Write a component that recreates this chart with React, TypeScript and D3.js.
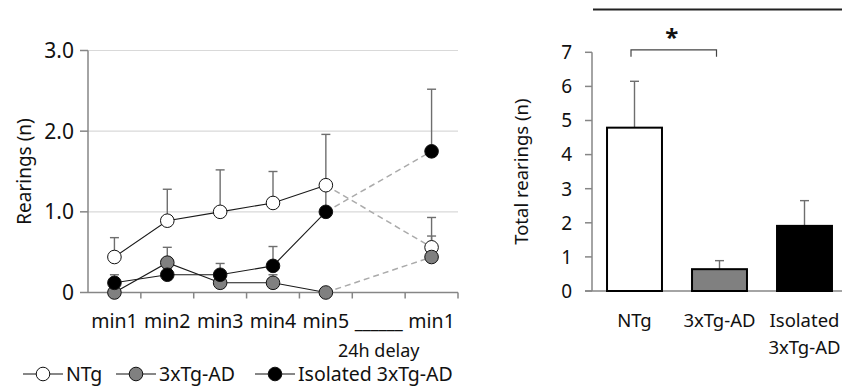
import { useEffect, useRef } from 'react'
import * as d3 from 'd3'

// time-course panel
const cats = ['m1', 'm2', 'm3', 'm4', 'm5', 'gap', 'm1d']
const catLabels = ['min1', 'min2', 'min3', 'min4', 'min5', '______', 'min1']
const pointCats = ['m1', 'm2', 'm3', 'm4', 'm5', 'm1d']
const leftTicks = [0, 1, 2, 3]
const leftTickLabels = ['0', '1.0', '2.0', '3.0']

const ntgMean = [0.44, 0.89, 1.0, 1.11, 1.33, 0.56]
const ntgErr = [0.24, 0.39, 0.52, 0.39, 0.63, 0.37]
const tgMean = [0, 0.37, 0.12, 0.12, 0, 0.44]
const tgErr = [0.1, 0.19, 0.1, 0.1, 0, 0.26]
const isoMean = [0.12, 0.22, 0.22, 0.33, 1.0, 1.75]
const isoErr = [0.1, 0.08, 0.14, 0.24, 0.3, 0.77]

const seriesNames = ['NTg', '3xTg-AD', 'Isolated 3xTg-AD']
const seriesFill = ['#ffffff', '#808080', '#000000']

// totals panel
const groups = ['NTg', '3xTg-AD', 'Isolated 3xTg-AD']
const groupLabels = [['NTg'], ['3xTg-AD'], ['Isolated', '3xTg-AD']]
const totals = [4.79, 0.64, 1.91]
const totalsErr = [1.36, 0.25, 0.74]
const rightTicks = [0, 1, 2, 3, 4, 5, 6, 7]

const FONT = '"Noto Sans", "Open Sans", sans-serif'
const AXIS = '#868686'
const ERR = '#6e6e6e'

export default function App() {
  const ref = useRef<SVGSVGElement>(null)

  useEffect(() => {
    document.body.style.margin = '0'
    const svg = d3.select(ref.current)
    svg.selectAll('*').remove()
    svg.attr('font-family', FONT)

    // ---------- left panel ----------
    const x = d3.scaleBand().domain(cats).range([88, 458])
    const y = d3.scaleLinear().domain([0, 3]).range([292.5, 50.5])
    const cx = (c: string) => (x(c) as number) + x.bandwidth() / 2
    const L = svg.append('g')

    leftTicks.filter(t => t > 0).forEach(t => {
      L.append('line').attr('x1', 88).attr('x2', 458).attr('y1', y(t)).attr('y2', y(t))
        .attr('stroke', '#d9d9d9').attr('stroke-width', 1.2)
    })
    // axes
    L.append('line').attr('x1', 88).attr('x2', 88).attr('y1', y(3)).attr('y2', y(0))
      .attr('stroke', AXIS).attr('stroke-width', 1.5)
    L.append('line').attr('x1', 88).attr('x2', 458).attr('y1', y(0)).attr('y2', y(0))
      .attr('stroke', AXIS).attr('stroke-width', 1.5)
    leftTicks.forEach((t, i) => {
      L.append('line').attr('x1', 80).attr('x2', 88).attr('y1', y(t)).attr('y2', y(t))
        .attr('stroke', AXIS).attr('stroke-width', 1.5)
      L.append('text').attr('x', 74).attr('y', y(t)).attr('dy', '0.36em')
        .attr('text-anchor', 'end').attr('font-size', 21).attr('fill', '#111')
        .text(leftTickLabels[i])
    })
    cats.forEach((c, i) => {
      const bx = (x(c) as number) + x.bandwidth()
      L.append('line').attr('x1', bx).attr('x2', bx).attr('y1', y(0)).attr('y2', y(0) + 6)
        .attr('stroke', AXIS).attr('stroke-width', 1.5)
      L.append('text').attr('x', cx(c)).attr('y', 328).attr('text-anchor', 'middle')
        .attr('font-size', 19.5).attr('fill', '#111')
        .attr('font-weight', c === 'gap' ? 'bold' : 'normal').text(catLabels[i])
    })
    L.append('text').attr('x', cx('gap')).attr('y', 357).attr('text-anchor', 'middle')
      .attr('font-size', 18).attr('fill', '#111').text('24h delay')
    L.append('text').attr('transform', `translate(31,${y(1.5)}) rotate(-90)`)
      .attr('text-anchor', 'middle').attr('font-size', 19).attr('fill', '#111').text('Rearings (n)')

    const means = [ntgMean, tgMean, isoMean]
    const errs = [ntgErr, tgErr, isoErr]

    // error bars (upper only)
    means.forEach((m, s) => {
      m.forEach((v, i) => {
        const px = cx(pointCats[i])
        const top = y(v + errs[s][i])
        L.append('line').attr('x1', px).attr('x2', px).attr('y1', y(v)).attr('y2', top)
          .attr('stroke', ERR).attr('stroke-width', 1.4)
        L.append('line').attr('x1', px - 4.5).attr('x2', px + 4.5).attr('y1', top).attr('y2', top)
          .attr('stroke', ERR).attr('stroke-width', 1.4)
      })
    })
    // delay dashed connectors
    means.forEach(m => {
      L.append('line').attr('x1', cx('m5')).attr('y1', y(m[4]))
        .attr('x2', cx('m1d')).attr('y2', y(m[5]))
        .attr('stroke', '#ababab').attr('stroke-width', 1.5).attr('stroke-dasharray', '6,4')
    })
    const line = d3.line<number>().x((_, i) => cx(pointCats[i])).y(v => y(v))
    means.forEach((m, s) => {
      L.append('path').attr('d', line(m.slice(0, 5))).attr('fill', 'none')
        .attr('stroke', '#1a1a1a').attr('stroke-width', 1.1)
      m.forEach((v, i) => {
        L.append('circle').attr('cx', cx(pointCats[i])).attr('cy', y(v)).attr('r', 6.8)
          .attr('fill', seriesFill[s]).attr('stroke', '#111').attr('stroke-width', 1)
      })
    })

    // legend
    const legX = [23, 116, 255]
    seriesNames.forEach((n, s) => {
      const g = L.append('g').attr('transform', `translate(${legX[s]},374)`)
      g.append('line').attr('x1', 0).attr('x2', 40).attr('stroke', '#111').attr('stroke-width', 1.1)
      g.append('circle').attr('cx', 20).attr('r', 6.8).attr('fill', seriesFill[s])
        .attr('stroke', '#111').attr('stroke-width', 1)
      g.append('text').attr('x', 43).attr('dy', '0.36em').attr('font-size', 19.5)
        .attr('fill', '#111').text(n)
    })

    // ---------- right panel ----------
    const xb = d3.scaleBand().domain(groups).range([592, 847]).paddingInner(0.33).paddingOuter(0.165)
    const yb = d3.scaleLinear().domain([0, 7]).range([291, 52.3])
    const bc = (g: string) => (xb(g) as number) + xb.bandwidth() / 2
    const R = svg.append('g')

    R.append('line').attr('x1', 593).attr('x2', 842).attr('y1', 9.5).attr('y2', 9.5)
      .attr('stroke', '#222').attr('stroke-width', 2)

    R.append('line').attr('x1', 592).attr('x2', 592).attr('y1', yb(7)).attr('y2', yb(0))
      .attr('stroke', AXIS).attr('stroke-width', 1.5)
    R.append('line').attr('x1', 585).attr('x2', 842).attr('y1', yb(0)).attr('y2', yb(0))
      .attr('stroke', AXIS).attr('stroke-width', 1.5)
    rightTicks.forEach(t => {
      R.append('line').attr('x1', 585).attr('x2', 592).attr('y1', yb(t)).attr('y2', yb(t))
        .attr('stroke', AXIS).attr('stroke-width', 1.5)
      R.append('text').attr('x', 572).attr('y', yb(t)).attr('dy', '0.36em')
        .attr('text-anchor', 'end').attr('font-size', 19).attr('fill', '#111').text(String(t))
    })
    R.append('text').attr('transform', `translate(528,${(yb(0) + yb(7)) / 2}) rotate(-90)`)
      .attr('text-anchor', 'middle').attr('font-size', 18.5).attr('fill', '#111')
      .text('Total rearings (n)')

    groups.forEach((g, i) => {
      const px = bc(g)
      const top = yb(totals[i] + totalsErr[i])
      R.append('line').attr('x1', px).attr('x2', px).attr('y1', yb(totals[i])).attr('y2', top)
        .attr('stroke', ERR).attr('stroke-width', 1.4)
      R.append('line').attr('x1', px - 4.5).attr('x2', px + 4.5).attr('y1', top).attr('y2', top)
        .attr('stroke', ERR).attr('stroke-width', 1.4)
      R.append('rect').attr('x', (xb(g) as number) + 1).attr('y', yb(totals[i]))
        .attr('width', xb.bandwidth() - 2).attr('height', yb(0) - yb(totals[i]))
        .attr('fill', seriesFill[i]).attr('stroke', '#000').attr('stroke-width', 2)
      groupLabels[i].forEach((t, k) => {
        R.append('text').attr('x', px).attr('y', 327 + k * 27).attr('text-anchor', 'middle')
          .attr('font-size', 18.5).attr('fill', '#111').text(t)
      })
    })

    // significance bracket
    const b1 = bc(groups[0]) - 3.5, b2 = bc(groups[1]) - 3
    const bt = yb(7) - 2.5
    R.append('path').attr('d', `M${b1},${bt + 7}V${bt}H${b2}V${bt + 7}`)
      .attr('fill', 'none').attr('stroke', '#444').attr('stroke-width', 1.2)
    R.append('text').attr('x', (b1 + b2) / 2 - 2).attr('y', 46).attr('text-anchor', 'middle')
      .attr('font-size', 24).attr('font-weight', 'bold').attr('fill', '#111').text('*')
  }, [])

  return (
    <svg ref={ref} width={842} height={390}
      style={{ position: 'absolute', left: 0, top: 0, background: '#fff' }} />
  )
}
